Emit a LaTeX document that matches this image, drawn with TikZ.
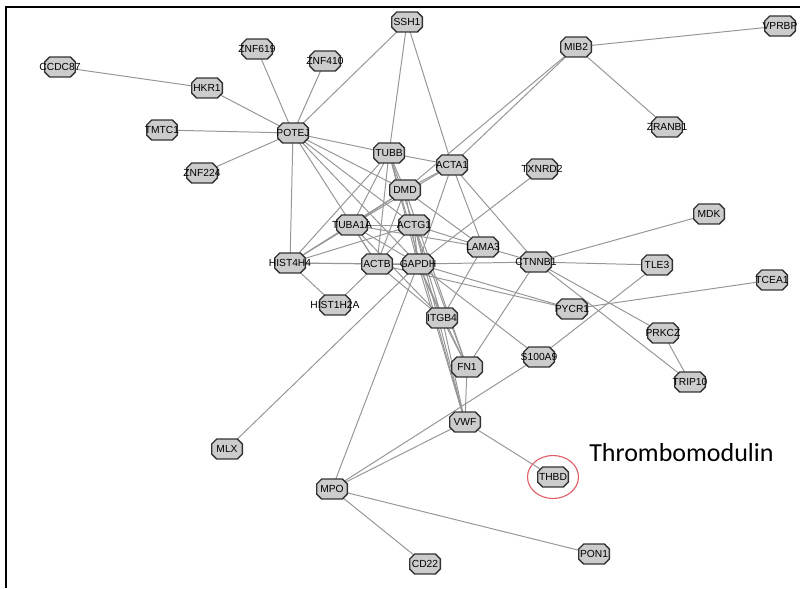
\documentclass[tikz,border=0pt]{standalone}
\usepackage{fontspec}
\setmainfont{Liberation Sans}
\newfontfamily\notefont{Carlito}
\usetikzlibrary{backgrounds}
\definecolor{cNode}{RGB}{204,204,204}
\definecolor{cBorder}{RGB}{50,50,50}
\definecolor{cEdge}{RGB}{150,150,150}
\definecolor{cRing}{RGB}{225,95,105}
\tikzset{
  genenode/.style={rectangle,minimum width=0.8cm,minimum height=0.53cm,
                   inner sep=0pt,font=\fontsize{7.3}{8}\selectfont,
                   execute at begin node={\hbox to 0pt\bgroup\hss},
                   execute at end node={\hss\egroup},
                   path picture={
                     \draw[draw=cBorder,fill=cNode,line width=0.9pt]
                       ([xshift=0.14cm,yshift=-0.016cm]path picture bounding box.north west)
                    -- ([xshift=-0.14cm,yshift=-0.016cm]path picture bounding box.north east)
                    -- ([xshift=-0.016cm,yshift=-0.14cm]path picture bounding box.north east)
                    -- ([xshift=-0.016cm,yshift=0.14cm]path picture bounding box.south east)
                    -- ([xshift=-0.14cm,yshift=0.016cm]path picture bounding box.south east)
                    -- ([xshift=0.14cm,yshift=0.016cm]path picture bounding box.south west)
                    -- ([xshift=0.016cm,yshift=0.14cm]path picture bounding box.south west)
                    -- ([xshift=0.016cm,yshift=-0.14cm]path picture bounding box.north west)
                    -- cycle;}},
  link/.style={draw=cEdge,line width=0.7pt},
  ring/.style={draw=cRing,line width=0.8pt},
  framing/.style={line width=1.4pt},
  notetext/.style={font=\notefont\fontsize{18.5}{20}\selectfont,inner sep=0pt}
}
\begin{document}
\begin{tikzpicture}[x=0.025cm,y=-0.025cm]
  \useasboundingbox (0,0) rectangle (800,588);
  \draw[framing] (6,588) -- (6,7) -- (800,7);

  % genes
  \node[genenode] (ssh1)     at (407,22)  {SSH1};
  \node[genenode] (znf619)   at (257,49)  {ZNF619};
  \node[genenode] (znf410)   at (325,61)  {ZNF410};
  \node[genenode] (ccdc87)   at (60,67)   {CCDC87};
  \node[genenode] (hkr1)     at (207,88)  {HKR1};
  \node[genenode] (mib2)     at (576,47)  {MIB2};
  \node[genenode] (vprbp)    at (780,26)  {VPRBP};
  \node[genenode] (tmtc1)    at (162,130) {TMTC1};
  \node[genenode] (potej)    at (293,133) {POTEJ};
  \node[genenode] (zranb1)   at (667,127) {ZRANB1};
  \node[genenode] (tubb)     at (389,153) {TUBB};
  \node[genenode] (acta1)    at (452,165) {ACTA1};
  \node[genenode] (znf224)   at (202,173) {ZNF224};
  \node[genenode] (txnrd2)   at (542,169) {TXNRD2};
  \node[genenode] (dmd)      at (405,190) {DMD};
  \node[genenode] (mdk)      at (709,214) {MDK};
  \node[genenode] (tuba1a)   at (352,225) {TUBA1A};
  \node[genenode] (actg1)    at (414,225) {ACTG1};
  \node[genenode] (lama3)    at (483,247) {LAMA3};
  \node[genenode] (hist4h4)  at (290,263) {HIST4H4};
  \node[genenode] (actb)     at (377,264) {ACTB};
  \node[genenode] (gapdh)    at (418,264) {GAPDH};
  \node[genenode] (ctnnb1)   at (536,262) {CTNNB1};
  \node[genenode] (tle3)     at (657,265) {TLE3};
  \node[genenode] (tcea1)    at (772,280) {TCEA1};
  \node[genenode] (hist1h2a) at (335,305) {HIST1H2A};
  \node[genenode] (pycr1)    at (572,309) {PYCR1};
  \node[genenode] (itgb4)    at (442,318) {ITGB4};
  \node[genenode] (prkcz)    at (663,333) {PRKCZ};
  \node[genenode] (s100a9)   at (539,357) {S100A9};
  \node[genenode] (fn1)      at (467,367) {FN1};
  \node[genenode] (trip10)   at (690,382) {TRIP10};
  \node[genenode] (vwf)      at (465,422) {VWF};
  \node[genenode] (mlx)      at (227,449) {MLX};
  \node[genenode] (thbd)     at (553,477) {THBD};
  \node[genenode] (mpo)      at (332,489) {MPO};
  \node[genenode] (cd22)     at (425,564) {CD22};
  \node[genenode] (pon1)     at (594,554) {PON1};

  \draw[ring] (thbd.center) ellipse [x radius=25.5, y radius=21.5];
  \node[notetext,anchor=base west] (note) at (589,461) {Thrombomodulin};

  \begin{scope}[on background layer]
    % outer genes
    \draw[link] (ccdc87.center) -- (hkr1.center);
    \draw[link] (hkr1.center) -- (potej.center);
    \draw[link] (tmtc1.center) -- (potej.center);
    \draw[link] (znf224.center) -- (potej.center);
    \draw[link] (znf619.center) -- (potej.center);
    \draw[link] (znf410.center) -- (potej.center);
    \draw[link] (ssh1.center) -- (potej.center);
    \draw[link] (ssh1.center) -- (tubb.center);
    \draw[link] (ssh1.center) -- (acta1.center);
    \draw[link] (mib2.center) -- (vprbp.center);
    \draw[link] (mib2.center) -- (zranb1.center);
    \draw[link] (mib2.center) -- (acta1.center);
    \draw[link] (mib2.center) -- (dmd.center);
    % core
    \draw[link] (potej.center) -- (tubb.center);
    \draw[link] (potej.center) -- (dmd.center);
    \draw[link] (potej.center) -- (actg1.center);
    \draw[link] (potej.center) -- (gapdh.center);
    \draw[link] (potej.center) -- (actb.center);
    \draw[link] (potej.center) -- (hist4h4.center);
    \draw[link] (tubb.center) -- (acta1.center);
    \draw[link] (tubb.center) -- (dmd.center);
    \draw[link] (tubb.center) -- (tuba1a.center);
    \draw[link] (tubb.center) -- (hist4h4.center);
    \draw[link] (tubb.center) -- (actb.center);
    \draw[link] (tubb.center) -- (gapdh.center);
    \draw[link] (tubb.center) -- (actg1.center);
    \draw[link] (tubb.center) -- (vwf.center);
    \draw[link] (acta1.center) -- (dmd.center);
    \draw[link] (acta1.center) -- (tuba1a.center);
    \draw[link] (acta1.center) -- (gapdh.center);
    \draw[link] (acta1.center) -- (lama3.center);
    \draw[link] (acta1.center) -- (ctnnb1.center);
    \draw[link] (dmd.center) -- (tuba1a.center);
    \draw[link] (dmd.center) -- (actb.center);
    \draw[link] (dmd.center) -- (gapdh.center);
    \draw[link] (dmd.center) -- (lama3.center);
    \draw[link] (dmd.center) -- (hist4h4.center);
    \draw[link] (dmd.center) -- (fn1.center);
    \draw[link] (tuba1a.center) -- (actg1.center);
    \draw[link] (tuba1a.center) -- (hist4h4.center);
    \draw[link] (tuba1a.center) -- (actb.center);
    \draw[link] (tuba1a.center) -- (gapdh.center);
    \draw[link] (tuba1a.center) -- (lama3.center);
    \draw[link] (tuba1a.center) -- (itgb4.center);
    \draw[link] (actg1.center) -- (hist4h4.center);
    \draw[link] (actg1.center) -- (actb.center);
    \draw[link] (actg1.center) -- (gapdh.center);
    \draw[link] (actg1.center) -- (lama3.center);
    \draw[link] (actg1.center) -- (itgb4.center);
    \draw[link] (actg1.center) -- (fn1.center);
    \draw[link] (actg1.center) -- (vwf.center);
    \draw[link] (hist4h4.center) -- (actb.center);
    \draw[link] (hist4h4.center) -- (gapdh.center);
    \draw[link] (hist4h4.center) -- (hist1h2a.center);
    \draw[link] (actb.center) -- (gapdh.center);
    \draw[link] (actb.center) -- (hist1h2a.center);
    \draw[link] (actb.center) -- (itgb4.center);
    \draw[link] (actb.center) -- (pycr1.center);
    \draw[link] (gapdh.center) -- (ctnnb1.center);
    \draw[link] (gapdh.center) -- (txnrd2.center);
    \draw[link] (gapdh.center) -- (pycr1.center);
    \draw[link] (gapdh.center) -- (s100a9.center);
    \draw[link] (gapdh.center) -- (itgb4.center);
    \draw[link] (gapdh.center) -- (fn1.center);
    \draw[link] (gapdh.center) -- (vwf.center);
    \draw[link] (gapdh.center) -- (mlx.center);
    \draw[link] (gapdh.center) -- (mpo.center);
    \draw[link] (lama3.center) -- (ctnnb1.center);
    \draw[link] (lama3.center) -- (itgb4.center);
    \draw[link] (ctnnb1.center) -- (mdk.center);
    \draw[link] (ctnnb1.center) -- (tle3.center);
    \draw[link] (ctnnb1.center) -- (prkcz.center);
    \draw[link] (ctnnb1.center) -- (trip10.center);
    \draw[link] (ctnnb1.center) -- (fn1.center);
    \draw[link] (tle3.center) -- (s100a9.center);
    \draw[link] (tcea1.center) -- (pycr1.center);
    \draw[link] (prkcz.center) -- (trip10.center);
    \draw[link] (itgb4.center) -- (fn1.center);
    \draw[link] (itgb4.center) -- (vwf.center);
    \draw[link] (fn1.center) -- (vwf.center);
    % lower part
    \draw[link] (vwf.center) -- (thbd.center);
    \draw[link] (vwf.center) -- (mpo.center);
    \draw[link] (s100a9.center) -- (mpo.center);
    \draw[link] (mpo.center) -- (cd22.center);
    \draw[link] (mpo.center) -- (pon1.center);
  \end{scope}
\end{tikzpicture}
\end{document}
